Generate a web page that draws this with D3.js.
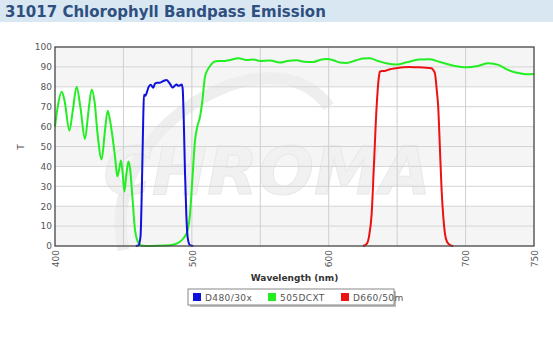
<!DOCTYPE html>
<html>
<head>
<meta charset="utf-8">
<script src="https://cdn.jsdelivr.net/npm/d3@7"></script>
<style>
  body { margin: 0; background: #fff; }
  text { font-family: "DejaVu Sans", Verdana, sans-serif; }
</style>
</head>
<body>
<script>
var width = 553, height = 340;

// 505DCXT dichroic
const greenWl = [400,402,404.9,407,410.5,413,415.8,418.5,421.9,424.5,426.8,429,431,434.1,436.5,438.5,440.5,442,444,445.5,447,448.2,449.5,450.7,452,453.6,455,456.5,458.5,460.9,463,470,480,487,491,494,496.5,498.5,500.5,502.3,504,506,507.5,509.6,511.5,513.3,516,519.3,524,528,533.9,540,545,549.8,557,564.4,570,576.6,582,588.7,594,598.5,604,608,613,620,625,630,636,642,649.6,657,666,673.9,682,692,700.7,709,716.6,724,731,737.3,744,750];
const greenT  = [60,70,77.5,73,58,68,80,70,53.8,68,78.7,72,57,43.5,58,68,62,55,44,35,39,43,36,27.3,35,42.4,38,25,8,1.6,0.3,0,0.2,0.8,2,4,7,15,35,53,60,65,72,85,88.5,90.5,92.5,93,93,93.5,94.3,93.5,93.7,93,93.2,92.2,93,93.3,92.6,92.5,93.6,94,93.2,92.2,92,93.3,94.2,94.3,93,91.8,91.2,92.3,93.7,93.8,92.3,90.5,89.8,90.5,91.8,91,88.5,87.1,86.3,86.4];

// D480/30x excitation
const blueWl = [459,461,462.5,463.5,464.5,465,466,467,468.5,469.9,471.8,473,474.7,476.5,478,480,481.6,483,484.5,486,487.5,488.9,490,490.8,492.6,493.3,494.2,495,496,497,498.6,501];
const blueT  = [0,0.3,5,30,65,76,75.5,77,80,81,79.5,81.5,82,82,82.5,83.2,83.4,82.5,81,79.6,80.5,81.2,80.5,80.5,81.2,79,60,36.6,15,4,0.5,0];

// D660/50m emission
const redWl = [625,627.8,629.5,631.4,633,635,636.5,637.4,639,640.9,642.5,644.7,649,654.4,659,664.2,669,673,675.2,676.5,677.6,679,680,681.2,682.5,683.8,684.9,686.5,688.6,691];
const redT  = [0,1.1,5,16.4,40,70,84,87.6,88,88,88.3,88.8,89.3,89.8,89.9,89.8,89.7,89.5,89.3,88.3,86.8,78,70,50,28,14,6.4,2,0.5,0];

const seriesNames  = ["D480/30x", "505DCXT", "D660/50m"];
const seriesColors = ["#1010dd", "#22ee22", "#ee1111"];
const xTicks = [400, 500, 600, 700, 750];
const xGrid  = [450, 500, 550, 600, 650, 700];
const yTicks = [0,10,20,30,40,50,60,70,80,90,100];

const margin = {left: 55, right: 19, top: 47, bottom: 94};
const pw = width - margin.left - margin.right,
      ph = height - margin.top - margin.bottom;

let svg = d3.select("body").append("svg")
    .attr("width", width).attr("height", height);

// header band
svg.append("rect").attr("x",0).attr("y",0).attr("width",width).attr("height",22)
    .attr("fill","#d9e7f3");
svg.append("text").attr("x",5).attr("y",17)
    .attr("font-size",15).attr("font-weight","bold").attr("fill","#2f4f80")
    .text("31017 Chlorophyll Bandpass Emission");

const x = d3.scaleLinear().domain([400,750]).range([0,pw]);
const y = d3.scaleLinear().domain([0,100]).range([ph,0]);

let g = svg.append("g").attr("transform", `translate(${margin.left},${margin.top})`);

// alternating background bands
g.selectAll(".band").data([0,40,80]).enter().append("rect")
    .attr("x",0).attr("width",pw)
    .attr("y", d=>y(d+20)).attr("height", d=>y(d)-y(d+20))
    .attr("fill","#f5f5f5");

// watermark
let wm = g.append("g");
wm.append("path")
    .attr("d", `M${x(450)},${y(-2)} C${x(430)},${y(60)} ${x(560)},${y(110)} ${x(600)},${y(70)}`)
    .attr("fill","none").attr("stroke","#eeeeee").attr("stroke-width",12);
wm.append("text").attr("x", x(555)).attr("y", y(26))
    .attr("text-anchor","middle").attr("font-size",66).attr("font-weight","bold")
    .attr("font-style","italic").attr("fill","#f1f1f1").attr("stroke","#e8e8e8")
    .text("CHROMA");

// grid
g.selectAll(".hg").data(yTicks.slice(1,-1)).enter().append("line")
    .attr("x1",0).attr("x2",pw).attr("y1",d=>y(d)).attr("y2",d=>y(d))
    .attr("stroke","#d4d4d4").attr("stroke-width",1);
g.selectAll(".vg").data(xGrid).enter().append("line")
    .attr("y1",0).attr("y2",ph).attr("x1",d=>x(d)).attr("x2",d=>x(d))
    .attr("stroke","#cfcfcf").attr("stroke-width",1);

// lines
const line = d3.line().x(d=>x(d[0])).y(d=>y(d[1])).curve(d3.curveMonotoneX);
const series = [
    d3.zip(blueWl, blueT),
    d3.zip(greenWl, greenT),
    d3.zip(redWl, redT)
];
g.selectAll(".series").data([1,0,2]).enter().append("path")
    .attr("d", i=>line(series[i]))
    .attr("fill","none").attr("stroke", i=>seriesColors[i]).attr("stroke-width",2);

// frame
g.append("rect").attr("x",0).attr("y",0).attr("width",pw).attr("height",ph)
    .attr("fill","none").attr("stroke","#444").attr("stroke-width",1.3);

// y axis
const yAxis = g.append("g").call(d3.axisLeft(y).tickValues(yTicks).tickSize(0).tickPadding(3));
yAxis.select(".domain").remove();
yAxis.selectAll("text").attr("font-size",9).attr("fill","#555")
    .attr("font-family","DejaVu Sans, Verdana, sans-serif");

// x axis
const xAxis = g.append("g").attr("transform",`translate(0,${ph})`)
    .call(d3.axisBottom(x).tickValues(xTicks).tickSize(0));
xAxis.select(".domain").remove();
xAxis.selectAll("text")
    .attr("font-size",9).attr("fill","#555")
    .attr("font-family","DejaVu Sans, Verdana, sans-serif")
    .attr("text-anchor","end").attr("dy","0.35em")
    .attr("transform","translate(0,4) rotate(-90)")
    .attr("y",0).attr("x",0);

// axis titles
svg.append("text").attr("transform","translate(24,147) rotate(-90)")
    .attr("text-anchor","middle").attr("font-size",9).attr("fill","#555").text("T");
svg.append("text").attr("x", margin.left + pw/2).attr("y",281)
    .attr("text-anchor","middle").attr("font-size",9).attr("font-weight","bold")
    .attr("fill","#333").text("Wavelength (nm)");

// legend
let lg = svg.append("g").attr("transform","translate(188,289)");
lg.append("rect").attr("x",2).attr("y",2).attr("width",206).attr("height",16).attr("fill","#bbb");
lg.append("rect").attr("x",0).attr("y",0).attr("width",206).attr("height",16)
    .attr("fill","#fff").attr("stroke","#888");
const legX = [5, 80, 153];
seriesNames.forEach((n,i)=>{
    lg.append("rect").attr("x",legX[i]).attr("y",4).attr("width",8).attr("height",8)
        .attr("fill",seriesColors[i]);
    lg.append("text").attr("x",legX[i]+12).attr("y",11.5)
        .attr("font-size",9).attr("fill","#555").attr("letter-spacing",0.4).text(n);
});
</script>
</body>
</html>
